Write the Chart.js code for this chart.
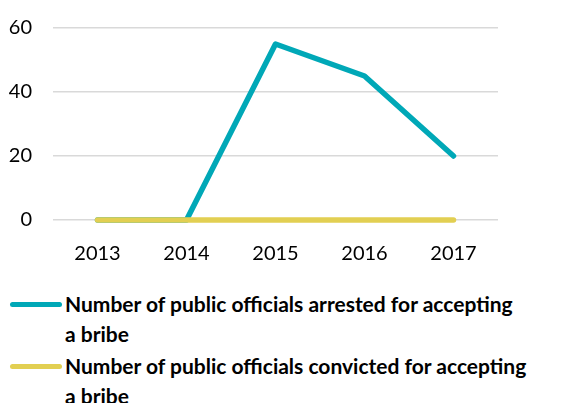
<!DOCTYPE html>
<html>
<head>
<meta charset="utf-8">
<script src="https://cdn.jsdelivr.net/npm/chart.js@4.4.0/dist/chart.umd.min.js"></script>
<style>
  html, body { margin: 0; padding: 0; background: #fff; }
  body { width: 565px; height: 403px; overflow: hidden; font-family: Lato, "Open Sans", sans-serif; }
  #wrap { position: relative; width: 565px; height: 270px; }
  #legend { position: absolute; left: 0; top: 289px; width: 565px; }
  .item { position: relative; padding-left: 65px; font-weight: bold; font-size: 21px; line-height: 30px; color: #000; white-space: pre; margin-bottom: 2px; }
  .swatch { position: absolute; left: 10px; top: 13px; width: 52px; height: 5px; border-radius: 3px; }
</style>
</head>
<body>
<div id="wrap"><canvas id="chart" width="565" height="270"></canvas></div>
<div id="legend"></div>
<script>
// data
const years = ['2013', '2014', '2015', '2016', '2017'];
const arrested = [0, 0, 55, 45, 20];
const convicted = [0, 0, 0, 0, 0];
const seriesLabels = [
  'Number of public officials arrested for accepting a bribe',
  'Number of public officials convicted for accepting a bribe'
];
const seriesColors = ['#00A8B7', '#E2CF52'];

const ctx = document.getElementById('chart').getContext('2d');

const chart = new Chart(ctx, {
  type: 'line',
  data: {
    labels: years,
    datasets: [
      {
        label: seriesLabels[0],
        data: arrested,
        borderColor: seriesColors[0],
        borderWidth: 5.5,
        pointRadius: 0,
        tension: 0,
        clip: false,
        order: 1, // drawn below the yellow line
        borderCapStyle: 'round',
        borderJoinStyle: 'round'
      },
      {
        label: seriesLabels[1],
        data: convicted,
        borderColor: seriesColors[1],
        borderWidth: 5.5,
        pointRadius: 0,
        tension: 0,
        clip: false, // sits on the zero line, don't cut it in half
        order: 0,
        borderCapStyle: 'round',
        borderJoinStyle: 'round'
      }
    ]
  },
  options: {
    responsive: false,
    animation: false,
    layout: { padding: { top: 28, right: 67, left: 0, bottom: 0 } },
    plugins: {
      legend: { display: false },
      tooltip: { enabled: false }
    },
    scales: {
      x: {
        offset: true,
        grid: { display: false },
        border: { display: false },
        ticks: {
          color: '#000',
          font: { family: 'Lato', size: 20 },
          padding: 14
        },
        afterFit: (scale) => {
          scale.height = 50;
          scale.paddingLeft = 0;
          scale.paddingRight = 0;
        }
      },
      y: {
        min: 0,
        max: 60,
        ticks: {
          stepSize: 20,
          color: '#000',
          font: { family: 'Lato', size: 20 },
          padding: 21
        },
        grid: { color: '#d9d9d9', lineWidth: 1.5, drawTicks: false },
        border: { display: false },
        afterFit: (scale) => {
          scale.width = 53;
          scale.paddingTop = 0;
          scale.paddingBottom = 0;
        }
      }
    }
  }
});

// legend built from the dataset labels; the reference breaks before "a bribe"
const legendEl = document.getElementById('legend');
chart.data.datasets.forEach((ds) => {
  const item = document.createElement('div');
  item.className = 'item';
  const sw = document.createElement('span');
  sw.className = 'swatch';
  sw.style.background = ds.borderColor;
  item.appendChild(sw);
  item.appendChild(document.createTextNode(ds.label.replace(/ (a bribe)$/, '\n$1')));
  legendEl.appendChild(item);
});
</script>
</body>
</html>
